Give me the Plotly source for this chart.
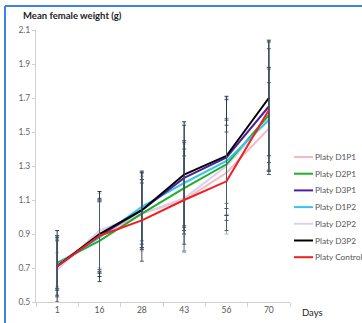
import plotly.graph_objects as go

days = ["1", "16", "28", "43", "56", "70"]

series_names = ["Platy D1P1", "Platy D2P1", "Platy D3P1", "Platy D1P2",
                "Platy D2P2", "Platy D3P2", "Platy Control"]

d1p1 = [0.72, 0.89, 1.02, 1.10, 1.26, 1.52]
d2p1 = [0.73, 0.86, 1.02, 1.17, 1.31, 1.60]
d3p1 = [0.71, 0.89, 1.04, 1.23, 1.35, 1.65]
d1p2 = [0.72, 0.88, 1.06, 1.20, 1.33, 1.57]
d2p2 = [0.69, 0.92, 1.02, 1.11, 1.30, 1.58]
d3p2 = [0.71, 0.90, 1.04, 1.25, 1.36, 1.70]
control = [0.71, 0.89, 0.98, 1.10, 1.21, 1.63]

err_d1p1 = [0.14, 0.20, 0.18, 0.30, 0.28, 0.27]
err_d2p1 = [0.16, 0.24, 0.20, 0.27, 0.26, 0.28]
err_d3p1 = [0.17, 0.22, 0.22, 0.31, 0.34, 0.38]
err_d1p2 = [0.15, 0.21, 0.20, 0.25, 0.25, 0.30]
err_d2p2 = [0.10, 0.22, 0.22, 0.32, 0.40, 0.30]
err_d3p2 = [0.21, 0.25, 0.23, 0.31, 0.35, 0.34]
err_control = [0.18, 0.21, 0.24, 0.26, 0.29, 0.36]

y_ticks = [0.5, 0.7, 0.9, 1.1, 1.3, 1.5, 1.7, 1.9, 2.1]

values = [d1p1, d2p1, d3p1, d1p2, d2p2, d3p2, control]
errors = [err_d1p1, err_d2p1, err_d3p1, err_d1p2, err_d2p2, err_d3p2, err_control]
colors = ["#f5b9c2", "#1fae2e", "#4b1f9e", "#33c6ea", "#d9d2ee", "#000000", "#f21f1f"]
err_colors = ["#4a5868", "#3c4a5a", "#3c4a5a", "#6a8098", "#a9b6c6", "#2c3a48", "#4a5868"]

FONT = "Lato"
L, R, T, B, W, H = 36, 72, 30, 21, 362, 323
PW, PH = W - L - R, H - T - B


def px(xp):
    return (xp - L) / PW


def py(yp):
    return (H - B - yp) / PH


fig = go.Figure()
draw_order = [0, 4, 1, 3, 2, 5, 6]
for i in draw_order:
    fig.add_trace(go.Scatter(
        x=days, y=values[i], name=series_names[i], mode="lines",
        line=dict(color=colors[i], width=2),
        error_y=dict(type="data", array=errors[i], visible=True,
                     color=err_colors[i], thickness=1, width=2),
        showlegend=False,
    ))

# Manual legend (Excel style: short line sample + label)
annotations = []
shapes = []
for k, name in enumerate(series_names):
    yc = 157 + 16.7 * k
    shapes.append(dict(type="line", xref="paper", yref="paper",
                       x0=px(294), x1=px(313), y0=py(yc), y1=py(yc),
                       line=dict(color=colors[k], width=2)))
    annotations.append(dict(text=name, xref="paper", yref="paper",
                            x=px(313), y=py(yc), xanchor="left", yanchor="middle",
                            showarrow=False,
                            font=dict(size=8.3, color="#555555", family=FONT)))

annotations += [
    dict(text="<b>Mean female weight (g)</b>", xref="paper", yref="paper",
         x=px(21), y=py(16), xanchor="left", yanchor="middle",
         showarrow=False, font=dict(size=9.5, color="#222222", family=FONT)),
    dict(text="Days", xref="paper", yref="paper", x=px(300), y=py(312),
         xanchor="left", yanchor="middle", showarrow=False,
         font=dict(size=9.5, color="#222222", family=FONT)),
]
shapes += [
    dict(type="line", xref="paper", yref="paper", x0=px(5), x1=px(400),
         y0=py(6), y1=py(6), line=dict(color="#3d82e6", width=2)),
    dict(type="line", xref="paper", yref="paper", x0=px(5), x1=px(5),
         y0=py(6), y1=py(340), line=dict(color="#3d82e6", width=2)),
]

fig.update_layout(
    width=W, height=H,
    margin=dict(l=L, r=R, t=T, b=B, autoexpand=False),
    paper_bgcolor="white", plot_bgcolor="white",
    font=dict(family=FONT, size=8.5, color="#555555"),
    showlegend=False,
    xaxis=dict(type="category", categoryorder="array", categoryarray=days,
               range=[-0.5, 5.5], showgrid=False, showline=True,
               linecolor="#d0d0d0", linewidth=1, ticks="outside",
               tickson="boundaries", ticklen=4, tickcolor="#d0d0d0",
               tickfont=dict(size=8.5, color="#555555"), zeroline=False),
    yaxis=dict(range=[0.5, 2.1], tickvals=y_ticks,
               ticktext=[f"{v:.1f}" for v in y_ticks],
               showgrid=False, showline=True, linecolor="#d0d0d0",
               linewidth=1, ticks="outside", ticklen=3, tickcolor="#d0d0d0",
               tickfont=dict(size=8.5, color="#666666"), zeroline=False),
    annotations=annotations,
    shapes=shapes,
)

fig.write_html("out.html")
